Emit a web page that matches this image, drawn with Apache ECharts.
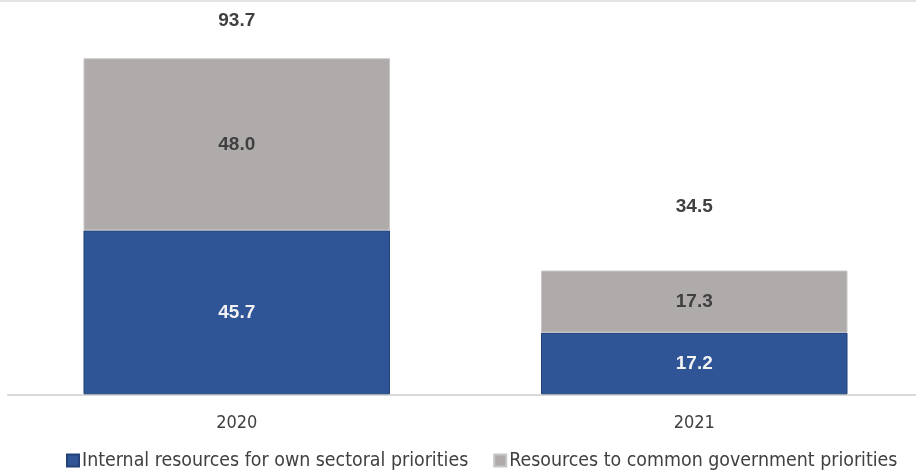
<!DOCTYPE html>
<html>
<head>
<meta charset="utf-8">
<script src="https://cdn.jsdelivr.net/npm/echarts@6/dist/echarts.min.js"></script>
<style>
  html, body { margin: 0; padding: 0; background: #fff; }
  #chart { width: 916px; height: 471px; }
</style>
</head>
<body>
<div id="chart"></div>
<script>
// Resources by year, split into two stacked components
const years = ['2020', '2021'];
const internalResources = [45.7, 17.2];
const commonResources = [48.0, 17.3];
const seriesNames = ['Internal resources for own sectoral priorities', 'Resources to common government priorities'];

const totals = years.map((_, i) => +(internalResources[i] + commonResources[i]).toFixed(1));
// upward lift of each total label above its bar, in px
const totalLift = [-38, -64];

const narrow = '"Liberation Sans Narrow", "DejaVu Sans Condensed", "Liberation Sans", sans-serif';
const labelFont = '"Liberation Sans", Arial, sans-serif';

const chart = echarts.init(document.getElementById('chart'));
chart.setOption({
  animation: false,
  backgroundColor: '#ffffff',
  grid: { left: 8, width: 915, top: 35.7, bottom: 76.7, outerBoundsMode: 'none', containLabel: false },
  legend: {
    top: 446,
    left: 61,
    itemWidth: 12,
    itemHeight: 12,
    itemGap: 25,
    icon: 'rect',
    textStyle: { fontFamily: narrow, fontSize: 19.4, color: '#404040', padding: [0, 0, 0, -2] },
    data: seriesNames
  },
  xAxis: {
    type: 'category',
    data: years,
    axisLine: { lineStyle: { color: '#d9d9d9', width: 2 } },
    axisTick: { show: false },
    axisLabel: { fontFamily: narrow, fontSize: 18, color: '#404040', margin: 20 }
  },
  yAxis: {
    type: 'value',
    min: 0,
    max: 100,
    show: false,
    splitLine: { show: false }
  },
  graphic: [{
    type: 'rect',
    shape: { x: 0, y: 0, width: 916, height: 2 },
    style: { fill: '#e3e3e3' },
    silent: true
  }],
  series: [
    {
      name: seriesNames[0],
      type: 'bar',
      stack: 'total',
      barCategoryGap: '33%',
      data: internalResources,
      itemStyle: { color: '#2f5597', borderColor: '#23427a', borderWidth: 1 },
      label: {
        show: true,
        position: 'inside',
        formatter: p => p.value.toFixed(1),
        fontFamily: labelFont,
        fontWeight: 'bold',
        fontSize: 19,
        color: '#f2f2f2'
      }
    },
    {
      name: seriesNames[1],
      type: 'bar',
      stack: 'total',
      barCategoryGap: '33%',
      data: commonResources,
      itemStyle: { color: '#afabab', borderColor: '#c8c5c5', borderWidth: 1 },
      label: {
        show: true,
        position: 'inside',
        formatter: p => p.value.toFixed(1),
        fontFamily: labelFont,
        fontWeight: 'bold',
        fontSize: 19,
        color: '#404040'
      }
    },
    {
      name: 'Total',
      type: 'scatter',
      symbolSize: 0,
      silent: true,
      itemStyle: { opacity: 1, color: 'rgba(0,0,0,0)' },
      data: totals.map((t, i) => ({
        value: [years[i], t],
        label: { offset: [0, totalLift[i]] }
      })),
      label: {
        show: true,
        position: 'inside',
        formatter: p => p.value[1].toFixed(1),
        fontFamily: labelFont,
        fontWeight: 'bold',
        fontSize: 19,
        color: '#404040',
        opacity: 1
      }
    }
  ]
});
</script>
</body>
</html>
